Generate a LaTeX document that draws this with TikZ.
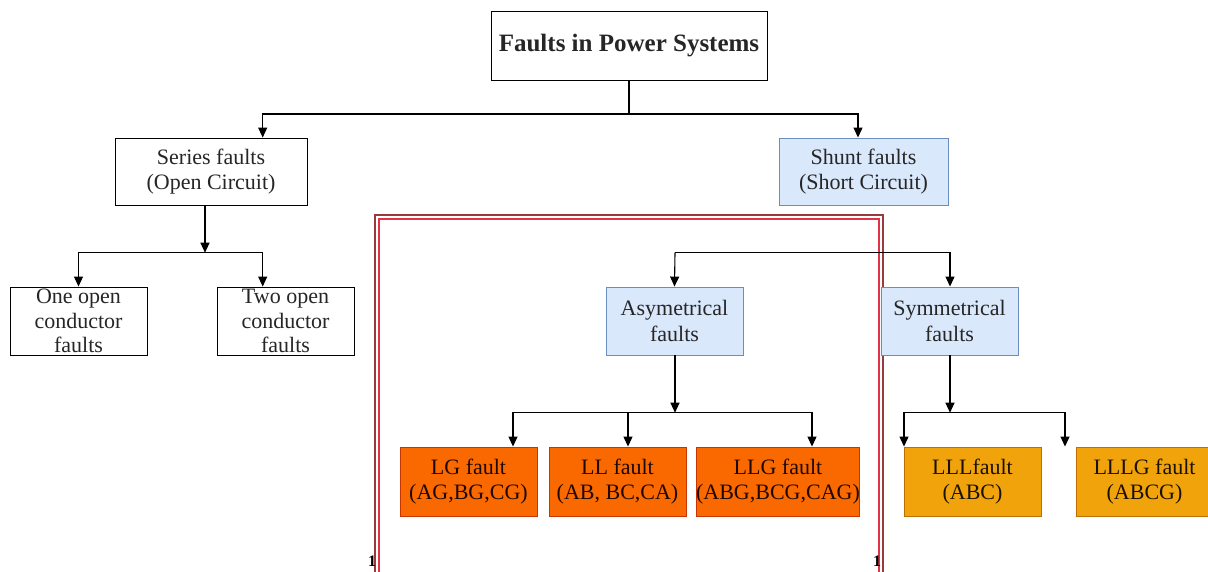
\documentclass[tikz,border=0pt]{standalone}
\usepackage{fontspec}
\setmainfont{Liberation Serif}
\usepackage{tikz}
\usetikzlibrary{arrows.meta}

\definecolor{shuntfill}{HTML}{DAE8FC}
\definecolor{shuntline}{HTML}{6C8EBF}
\definecolor{asymfill}{HTML}{FA6800}
\definecolor{asymline}{HTML}{C73500}
\definecolor{symfill}{HTML}{F0A30A}
\definecolor{symline}{HTML}{BD7000}
\definecolor{borderdark}{RGB}{150,60,60}
\definecolor{borderred}{RGB}{225,50,70}
\definecolor{textgray}{HTML}{262626}

\tikzset{
  fbox/.style={draw=black, line width=0.9pt, fill=white, align=center, text=textgray,
    inner sep=0pt, font=\fontsize{22}{25.5}\selectfont},
  bluebox/.style={fbox, draw=shuntline, fill=shuntfill},
  redbox/.style={fbox, draw=asymline, fill=asymfill, text=black!85!asymline},
  ambbox/.style={fbox, draw=symline, fill=symfill, text=black!85!symline},
  link/.style={line width=1.1pt, -{Triangle[length=10pt,width=9pt]}},
}

\begin{document}
\begin{tikzpicture}[x=1pt, y=-1pt]
  \useasboundingbox (0,0) rectangle (1208,571);
  \fill[white] (0,0) rectangle (1208,571);

  \draw[borderdark, line width=1.3pt] (375,580) -- (375,215) -- (883,215) -- (883,580);
  \draw[borderred, line width=1.3pt] (379,580) -- (379,219) -- (879,219) -- (879,580);
  \node[font=\bfseries\fontsize{16}{16}\selectfont, inner sep=1pt] (mark1) at (372,561) {1};
  \node[font=\bfseries\fontsize{16}{16}\selectfont, inner sep=1pt] (mark2) at (877,561) {1};

  \node[fbox, minimum width=276, minimum height=69, font=\bfseries\fontsize{25}{27}\selectfont] (title) at (629,45.5) {Faults in Power Systems};
  \node[fbox, minimum width=192, minimum height=67] (series) at (211,171.5) {Series faults\\(Open Circuit)};
  \node[bluebox, minimum width=169, minimum height=67] (shunt) at (863.5,171.5) {Shunt faults\\(Short Circuit)};
  \node[fbox, minimum width=137, minimum height=68, font=\fontsize{22}{24.5}\selectfont] (oneopen) at (78.5,321) {One open\\conductor\\faults};
  \node[fbox, minimum width=137, minimum height=68, font=\fontsize{22}{24.5}\selectfont] (twoopen) at (285.5,321) {Two open\\conductor\\faults};
  \node[bluebox, minimum width=137, minimum height=68] (asym) at (674.5,321) {Asymetrical\\faults};
  \node[bluebox, minimum width=137, minimum height=68] (sym) at (949.5,321) {Symmetrical\\faults};
  \node[redbox, minimum width=137, minimum height=69] (lg) at (468.5,481.5) {LG fault\\(AG,BG,CG)};
  \node[redbox, minimum width=137, minimum height=69] (ll) at (617.5,481.5) {LL fault\\(AB, BC,CA)};
  \node[redbox, minimum width=162, minimum height=69] (llg) at (778,481.5) {LLG fault\\(ABG,BCG,CAG)};
  \node[ambbox, minimum width=137, minimum height=69] (lll) at (972.5,481.5) {LLLfault\\(ABC)};
  \node[ambbox, minimum width=137, minimum height=69] (lllg) at (1144.5,481.5) {LLLG fault\\(ABCG)};

  \coordinate (top) at (629,114);
  \coordinate (ser) at (205,252.7);
  \coordinate (shu) at (675,252.7);
  \coordinate (asy) at (675,412.7);
  \coordinate (sy) at (950,412.7);

  \draw[line width=1.1pt] (title.south) -- (top);
  \draw[link] (top) -| ([xshift=51.7]series.north);
  \draw[link] (top) -| ([xshift=-5.5]shunt.north);

  \draw[link] ([xshift=-6]series.south) -- (ser);
  \draw[link] (ser) -| (oneopen.north);
  \draw[link] (ser) -| ([xshift=-22.8]twoopen.north);

  \draw[link] (shu) -- (asym.north);
  \draw[link] (shu) -| ([xshift=0.5]sym.north);

  \draw[link] ([xshift=0.5]asym.south) -- (asy);
  \draw[link] (asy) -| ([xshift=44.5]lg.north);
  \draw[link] (asy) -| ([xshift=34]llg.north);
  \draw[link] ([xshift=10.5]ll.north |- asy) -- ([xshift=10.5]ll.north);

  \draw[link] ([xshift=0.5]sym.south) -- (sy);
  \draw[link] (sy) -| ([xshift=-68.5]lll.north);
  \draw[link] (sy) -| ([xshift=-79.5]lllg.north);
\end{tikzpicture}
\end{document}
